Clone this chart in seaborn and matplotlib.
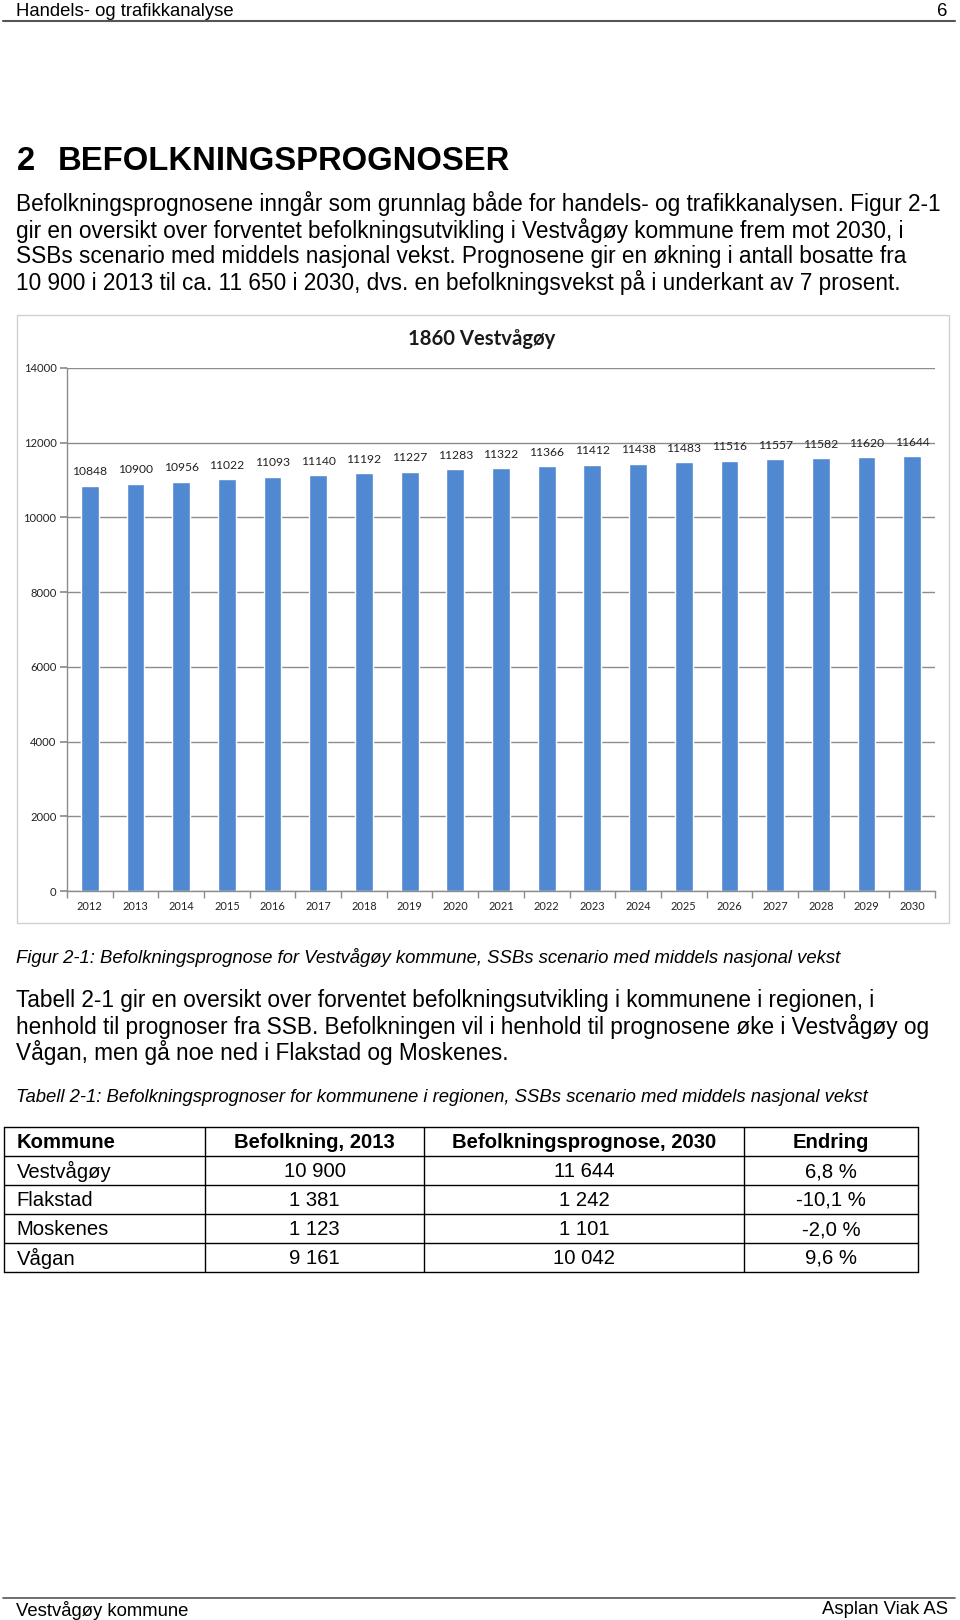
import pandas as pd
import seaborn as sns
import matplotlib.pyplot as plt
from matplotlib.patches import Rectangle
from matplotlib.lines import Line2D
from matplotlib.ticker import FixedLocator

# data til figur 2-1
years = ["2012", "2013", "2014", "2015", "2016", "2017", "2018", "2019", "2020", "2021",
         "2022", "2023", "2024", "2025", "2026", "2027", "2028", "2029", "2030"]
befolkning = [10848, 10900, 10956, 11022, 11093, 11140, 11192, 11227, 11283, 11322,
              11366, 11412, 11438, 11483, 11516, 11557, 11582, 11620, 11644]
y_ticks = [0, 2000, 4000, 6000, 8000, 10000, 12000, 14000]

# data til tabell 2-1
tabell_header = ["Kommune", "Befolkning, 2013", "Befolkningsprognose, 2030", "Endring"]
kommuner = ["Vestvågøy", "Flakstad", "Moskenes", "Vågan"]
bef_2013 = ["10 900", "1 381", "1 123", "9 161"]
prog_2030 = ["11 644", "1 242", "1 101", "10 042"]
endring = ["6,8 %", "-10,1 %", "-2,0 %", "9,6 %"]

avsnitt_1 = [
    "Befolkningsprognosene inngår som grunnlag både for handels- og trafikkanalysen. Figur 2-1",
    "gir en oversikt over forventet befolkningsutvikling i Vestvågøy kommune frem mot 2030, i",
    "SSBs scenario med middels nasjonal vekst. Prognosene gir en økning i antall bosatte fra",
    "10 900 i 2013 til ca. 11 650 i 2030, dvs. en befolkningsvekst på i underkant av 7 prosent.",
]
avsnitt_2 = [
    "Tabell 2-1 gir en oversikt over forventet befolkningsutvikling i kommunene i regionen, i",
    "henhold til prognoser fra SSB. Befolkningen vil i henhold til prognosene øke i Vestvågøy og",
    "Vågan, men gå noe ned i Flakstad og Moskenes.",
]

sns.set_theme(style="white")
plt.rcParams['font.family'] = ['Liberation Sans', 'DejaVu Sans']

W, H = 960, 1620
fig = plt.figure(figsize=(9.6, 16.2), dpi=100)
fig.patch.set_facecolor('white')


def px(x):
    return x / W


def py(y):
    return 1 - y / H


def linje(x0, x1, y0, y1, **kw):
    fig.add_artist(Line2D([px(x0), px(x1)], [py(y0), py(y1)],
                          transform=fig.transFigure, **kw))


def tekst(x, y, s, **kw):
    kw.setdefault('va', 'center')
    kw.setdefault('color', 'black')
    fig.text(px(x), py(y), s, **kw)


# topptekst
tekst(16.5, 12, "Handels- og trafikkanalyse", fontsize=13.3)
tekst(947, 12, "6", fontsize=13.3, ha='right')
linje(3, 955, 21, 21, color='#555555', lw=1.5)

# overskrift
tekst(16.5, 161, "2", fontsize=23.6, weight='bold')
tekst(58, 161, "BEFOLKNINGSPROGNOSER", fontsize=23.6, weight='bold')

for i, s in enumerate(avsnitt_1):
    tekst(16.5, 204 + i * 26.3, s, fontsize=16.3)

# ramme rundt diagrammet
fig.add_artist(Rectangle((px(16.5), py(923)), px(949 - 16.5), (923 - 315) / H,
                         fill=False, ec='#D0D0D0', lw=1, transform=fig.transFigure))
tekst(482, 339, "1860 Vestvågøy", fontsize=14.6, weight='bold', ha='center',
      family=['Lato', 'DejaVu Sans'], color='#1a1a1a')

ax = fig.add_axes([px(67), py(891), px(935 - 67), (891 - 368) / H])
df = pd.DataFrame({"år": years, "befolkning": befolkning})
sns.barplot(data=df, x="år", y="befolkning", color="#5088D2", saturation=1,
            width=0.39, ax=ax)
ax.set_ylim(0, 14000)
ax.set_xlim(-0.5, len(years) - 0.5)
ax.set_yticks(y_ticks)
ax.set_xlabel("")
ax.set_ylabel("")
ax.yaxis.grid(True, color='#8C8C8C', lw=1)
ax.set_axisbelow(True)
for side in ['top', 'right']:
    ax.spines[side].set_visible(False)
for side in ['left', 'bottom']:
    ax.spines[side].set_color('#8C8C8C')
    ax.spines[side].set_linewidth(1)
ax.xaxis.set_minor_locator(FixedLocator([i - 0.5 for i in range(len(years) + 1)]))
ax.tick_params(axis='x', which='major', length=0, pad=7.5, labelsize=7.9, labelcolor='#222222')
ax.tick_params(axis='x', which='minor', length=5, color='#8C8C8C', direction='out', bottom=True)
ax.tick_params(axis='y', which='major', length=5, color='#8C8C8C', direction='out', left=True,
               pad=2.5, labelsize=8.1, labelcolor='#222222')
for lbl in ax.get_xticklabels() + ax.get_yticklabels():
    lbl.set_family(['Lato', 'DejaVu Sans'])
labels = ax.bar_label(ax.containers[0], padding=6, fontsize=8.7, color='#222222')
for lbl in labels:
    lbl.set_family(['Lato', 'DejaVu Sans'])

tekst(16.5, 957, "Figur 2-1: Befolkningsprognose for Vestvågøy kommune, SSBs scenario med middels nasjonal vekst",
      fontsize=13.3, style='italic')

for i, s in enumerate(avsnitt_2):
    tekst(16.5, 1000 + i * 26.3, s, fontsize=16.3)

tekst(16.5, 1097.5, "Tabell 2-1: Befolkningsprognoser for kommunene i regionen, SSBs scenario med middels nasjonal vekst",
      fontsize=13.3, style='italic')

# tabell
kol_x = [4, 205, 424, 744, 918]
rad_y = [1127, 1156, 1185, 1214, 1243, 1272]
for yy in rad_y:
    linje(kol_x[0], kol_x[-1], yy, yy, color='black', lw=1)
for xx in kol_x:
    linje(xx, xx, rad_y[0], rad_y[-1], color='black', lw=1)

rader = [tabell_header] + [list(r) for r in zip(kommuner, bef_2013, prog_2030, endring)]
for r, rad in enumerate(rader):
    yc = (rad_y[r] + rad_y[r + 1]) / 2 + 1
    vekt = 'bold' if r == 0 else 'normal'
    for c, verdi in enumerate(rad):
        if c == 0:
            tekst(16.5, yc, verdi, fontsize=14.6, weight=vekt)
        else:
            tekst((kol_x[c] + kol_x[c + 1]) / 2, yc, verdi, fontsize=14.6, weight=vekt, ha='center')

# bunntekst
linje(3, 955, 1598, 1598, color='#555555', lw=1.2)
tekst(16.5, 1610, "Vestvågøy kommune", fontsize=13.3)
tekst(948, 1610, "Asplan Viak AS", fontsize=13.3, ha='right')

fig.savefig("out.png", dpi=100)
plt.close()
